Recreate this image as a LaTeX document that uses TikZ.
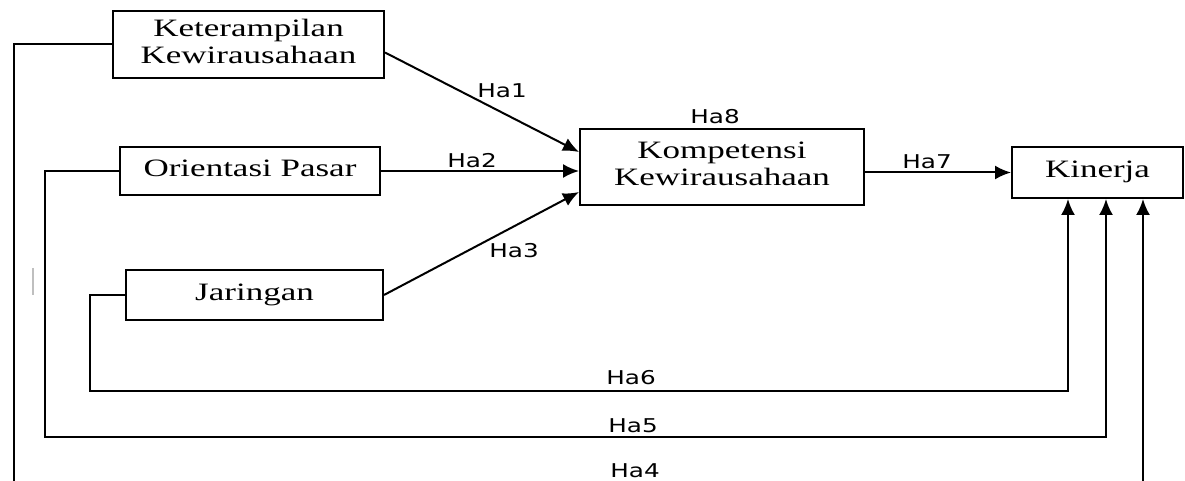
\documentclass[tikz,border=0pt]{standalone}
\usepackage{fontspec}
\setmainfont{Liberation Serif}
\newfontfamily\hypfont{DejaVu Sans}
\usetikzlibrary{arrows.meta,calc}
\newcommand{\boxtext}[1]{\scalebox{1.4}[1]{\begin{tabular}{@{}c@{}}#1\end{tabular}}}
\newcommand{\hyptext}[1]{\scalebox{1.3}[1]{#1}}
\begin{document}
\begin{tikzpicture}[x=0.5pt,y=-0.5pt,
    var/.style={draw,line width=1pt,inner sep=0pt,font=\fontsize{12.5}{13.5}\selectfont},
    hyp/.style={inner sep=0pt,font=\hypfont\fontsize{9.5}{11}\selectfont},
    link/.style={line width=1pt,-{Latex[length=8pt,width=7pt]}}]
    \useasboundingbox (0,0) rectangle (1185,481);
    \clip (0,0) rectangle (1185,481);

    % variables
    \node[var,minimum width=135.5pt,minimum height=33.5pt] (ket)  at (248.5,44.5)  {\boxtext{Keterampilan\\Kewirausahaan}};
    \node[var,minimum width=130pt,minimum height=24pt]     (ori)  at (250,171)     {\boxtext{Orientasi Pasar}};
    \node[var,minimum width=128.5pt,minimum height=25pt]   (jar)  at (254.5,295)   {\boxtext{Jaringan}};
    \node[var,minimum width=142pt,minimum height=38pt]     (komp) at (722,167)     {\boxtext{Kompetensi\\Kewirausahaan}};
    \node[var,minimum width=85.5pt,minimum height=25.5pt]  (kin)  at (1097.5,172.5){\boxtext{Kinerja}};

    \coordinate (k6) at ($(kin.south)+(-29.5,0)$);
    \coordinate (k5) at ($(kin.south)+(8.5,0)$);
    \coordinate (k4) at ($(kin.south)+(45.5,0)$);

    % direct paths
    \draw[link] ([yshift=-4pt]ket.east) -- ([yshift=7.5pt]komp.west);
    \draw[link] (ori.east) -- (ori.east -| komp.west);
    \draw[link] (jar.east) -- ([yshift=-12.5pt]komp.west);
    \draw[link] (kin.west -| komp.east) -- (kin.west);

    % paths to Kinerja
    \draw[link] (jar.west) -| (90,391) -| (k6);
    \draw[link] (ori.west) -| (45,437) -| (k5);
    \draw[link] (ket.west) -| (14,490) -| (k4);

    \draw[black!25,line width=0.6pt] (33,268) -- (33,295);

    % labels
    \node[hyp] (h1) at (502,91)  {\hyptext{Ha1}};
    \node[hyp] (h2) at (472,161) {\hyptext{Ha2}};
    \node[hyp] (h3) at (514,251) {\hyptext{Ha3}};
    \node[hyp] (h4) at (635,471) {\hyptext{Ha4}};
    \node[hyp] (h5) at (633,426) {\hyptext{Ha5}};
    \node[hyp] (h6) at (631,378) {\hyptext{Ha6}};
    \node[hyp] (h7) at (927,162) {\hyptext{Ha7}};
    \node[hyp] (h8) at (715,117) {\hyptext{Ha8}};
\end{tikzpicture}
\end{document}
